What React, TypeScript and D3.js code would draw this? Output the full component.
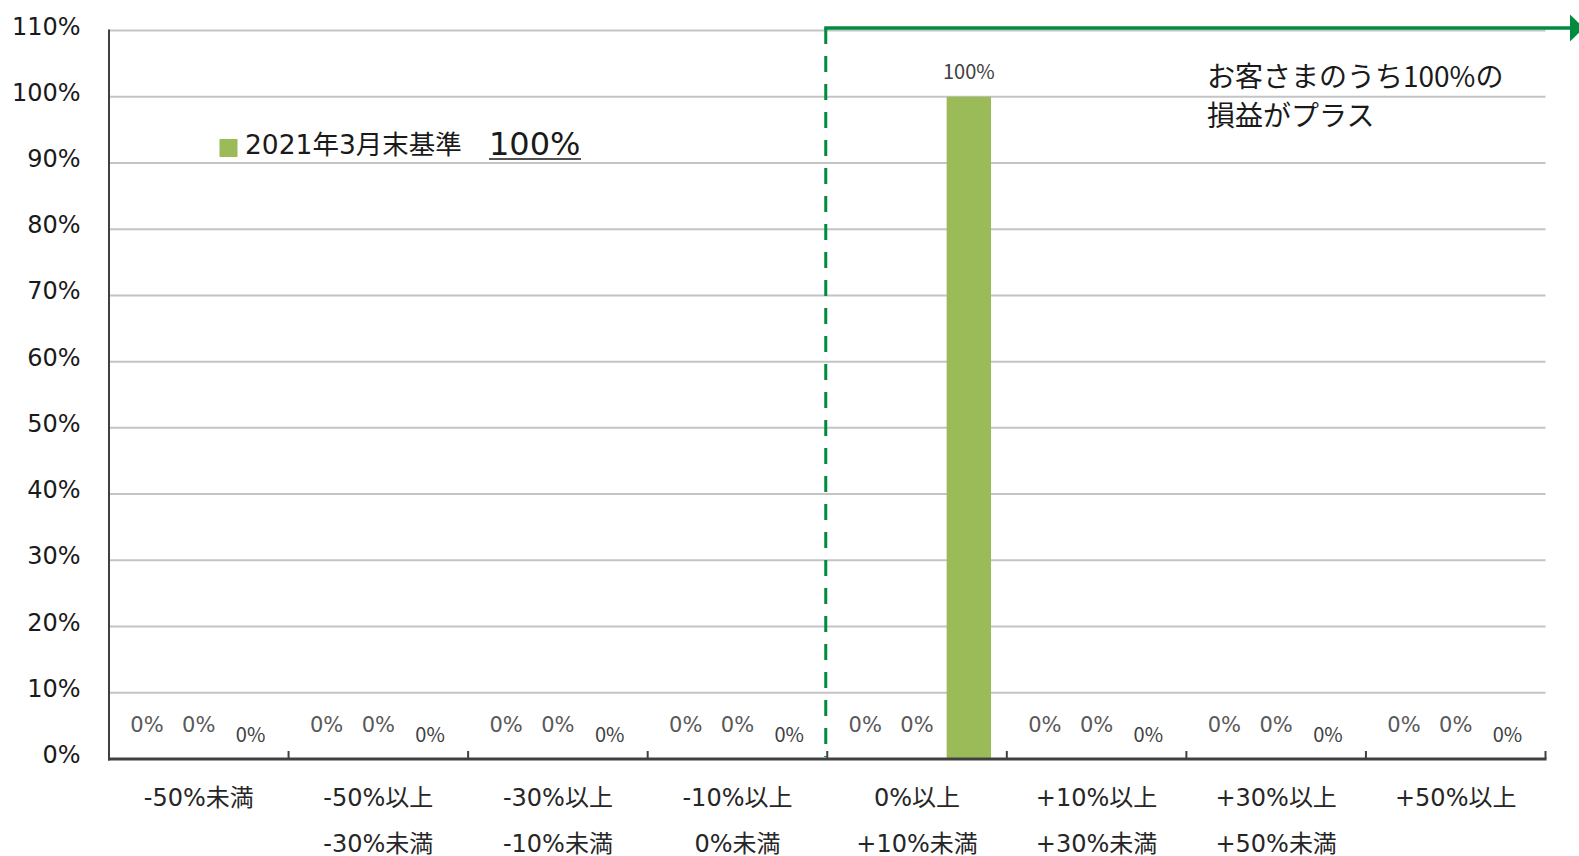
import React from "react";
import * as d3 from "d3";

const categories: string[][] = [
  ["-50%未満"],
  ["-50%以上", "-30%未満"],
  ["-30%以上", "-10%未満"],
  ["-10%以上", "0%未満"],
  ["0%以上", "+10%未満"],
  ["+10%以上", "+30%未満"],
  ["+30%以上", "+50%未満"],
  ["+50%以上"],
];
const seriesNames = ["s1", "s2", "2021年3月末基準"];
const series1 = [0, 0, 0, 0, 0, 0, 0, 0];
const series2 = [0, 0, 0, 0, 0, 0, 0, 0];
const series3 = [0, 0, 0, 0, 100, 0, 0, 0];
const yTicks = [0, 10, 20, 30, 40, 50, 60, 70, 80, 90, 100, 110];
const legendLabel = "2021年3月末基準";
const legendValue = "100%";
const noteLines = ["お客さまのうち100%の", "損益がプラス"];

const W = 1579;
const H = 856;
const left = 109;
const right = 1545.5;
const y0 = 759;
const yTop = 30.5;

const GREEN = "#008c3e";
const BAR = "#9bbb59";
const LATIN = "'DejaVu Sans', 'Noto Sans CJK JP', sans-serif";
const CJK = "'Noto Sans CJK JP', sans-serif";

export default function App() {
  const idx = categories.map((_, i) => String(i));
  const x0 = d3.scaleBand<string>().domain(idx).range([left, right]).paddingInner(0).paddingOuter(0);
  const x1 = d3
    .scaleBand<string>()
    .domain(seriesNames)
    .range([0, x0.bandwidth()])
    .paddingInner(0.143)
    .paddingOuter(0.305);
  const y = d3.scaleLinear().domain([0, 110]).range([y0, yTop]);
  const allSeries = [series1, series2, series3];

  const boundaries = idx.map((k) => x0(k)! + x0.bandwidth());
  const splitX = x0("4")! - 1.5;
  const arrowY = y(110) - 2.5;

  return (
    <svg
      width={W}
      height={H}
      style={{ position: "fixed", left: 0, top: 0, background: "#fff" }}
    >
      <rect x={0} y={0} width={W} height={H} fill="#fff" />
      {/* gridlines */}
      {yTicks
        .filter((t) => t > 0)
        .map((t) => (
          <line key={t} x1={left} x2={right} y1={y(t)} y2={y(t)} stroke="#c4c4c4" strokeWidth={2} />
        ))}
      {/* y labels */}
      {yTicks.map((t) => (
        <text
          key={"yl" + t}
          x={80.5}
          y={y(t) - 4}
          textAnchor="end"
          dominantBaseline="central"
          fontFamily={LATIN}
          fontSize={24}
          fill="#1a1a1a"
        >
          {t}%
        </text>
      ))}
      {/* bars */}
      {allSeries.map((vals, si) =>
        vals.map((v, ci) => {
          const bx = x0(String(ci))! + x1(seriesNames[si])!;
          return v > 0 ? (
            <rect
              key={`b${si}-${ci}`}
              x={bx}
              y={y(v)}
              width={x1.bandwidth()}
              height={y0 - y(v)}
              fill={BAR}
            />
          ) : null;
        })
      )}
      {/* data labels */}
      {allSeries.map((vals, si) =>
        vals.map((v, ci) => {
          const cx = x0(String(ci))! + x1(seriesNames[si])! + x1.bandwidth() / 2;
          const isMain = si === 2;
          return (
            <text
              key={`l${si}-${ci}`}
              x={cx}
              y={y(v) - (isMain ? 26 : 34)}
              textAnchor="middle"
              dominantBaseline="central"
              fontFamily={isMain ? CJK : LATIN}
              fontSize={isMain ? 20 : 21}
              fill={isMain ? "#404040" : "#595959"}
            >
              {v}%
            </text>
          );
        })
      )}
      {/* axes */}
      <line x1={left} x2={left} y1={yTop - 1} y2={y0 + 1.5} stroke="#404040" strokeWidth={2} />
      {boundaries.map((bx, i) => (
        <line key={"t" + i} x1={bx} x2={bx} y1={y0 - 8} y2={y0} stroke="#404040" strokeWidth={2} />
      ))}
      <line x1={left - 1} x2={right + 1} y1={y0} y2={y0} stroke="#404040" strokeWidth={3} />
      {/* x labels */}
      {categories.map((lines, ci) => {
        const cx = x0(String(ci))! + x0.bandwidth() / 2;
        return lines.map((ln, li) => (
          <text
            key={`x${ci}-${li}`}
            x={cx}
            y={806 + li * 46}
            textAnchor="middle"
            fontFamily={LATIN}
            fontSize={24}
            fill="#262626"
          >
            {ln}
          </text>
        ));
      })}
      {/* green split line and arrow */}
      <line
        x1={splitX}
        x2={splitX}
        y1={arrowY}
        y2={y0 - 2}
        stroke={GREEN}
        strokeWidth={3}
        strokeDasharray="16 12"
      />
      <line x1={splitX - 1.5} x2={1571} y1={arrowY} y2={arrowY} stroke={GREEN} strokeWidth={3.5} />
      <polygon
        points={`1570,${arrowY - 13.5} 1570,${arrowY + 13.5} 1584,${arrowY}`}
        fill={GREEN}
      />
      {/* legend */}
      <rect x={219.5} y={139} width={18} height={18} fill={BAR} />
      <text x={245} y={146} fontFamily={LATIN} fontSize={26.5} fill="#1a1a1a" dominantBaseline="middle">
        {legendLabel}
      </text>
      <text x={489} y={155} fontFamily={LATIN} fontSize={32} fill="#1a1a1a">
        {legendValue}
      </text>
      <line x1={489} x2={581} y1={159} y2={159} stroke="#1a1a1a" strokeWidth={1.5} />
      {/* annotation */}
      {noteLines.map((ln, i) => (
        <text
          key={"n" + i}
          x={1207}
          y={87 + i * 39}
          fontFamily={CJK}
          fontSize={28}
          fill="#1a1a1a"
        >
          {ln}
        </text>
      ))}
    </svg>
  );
}
